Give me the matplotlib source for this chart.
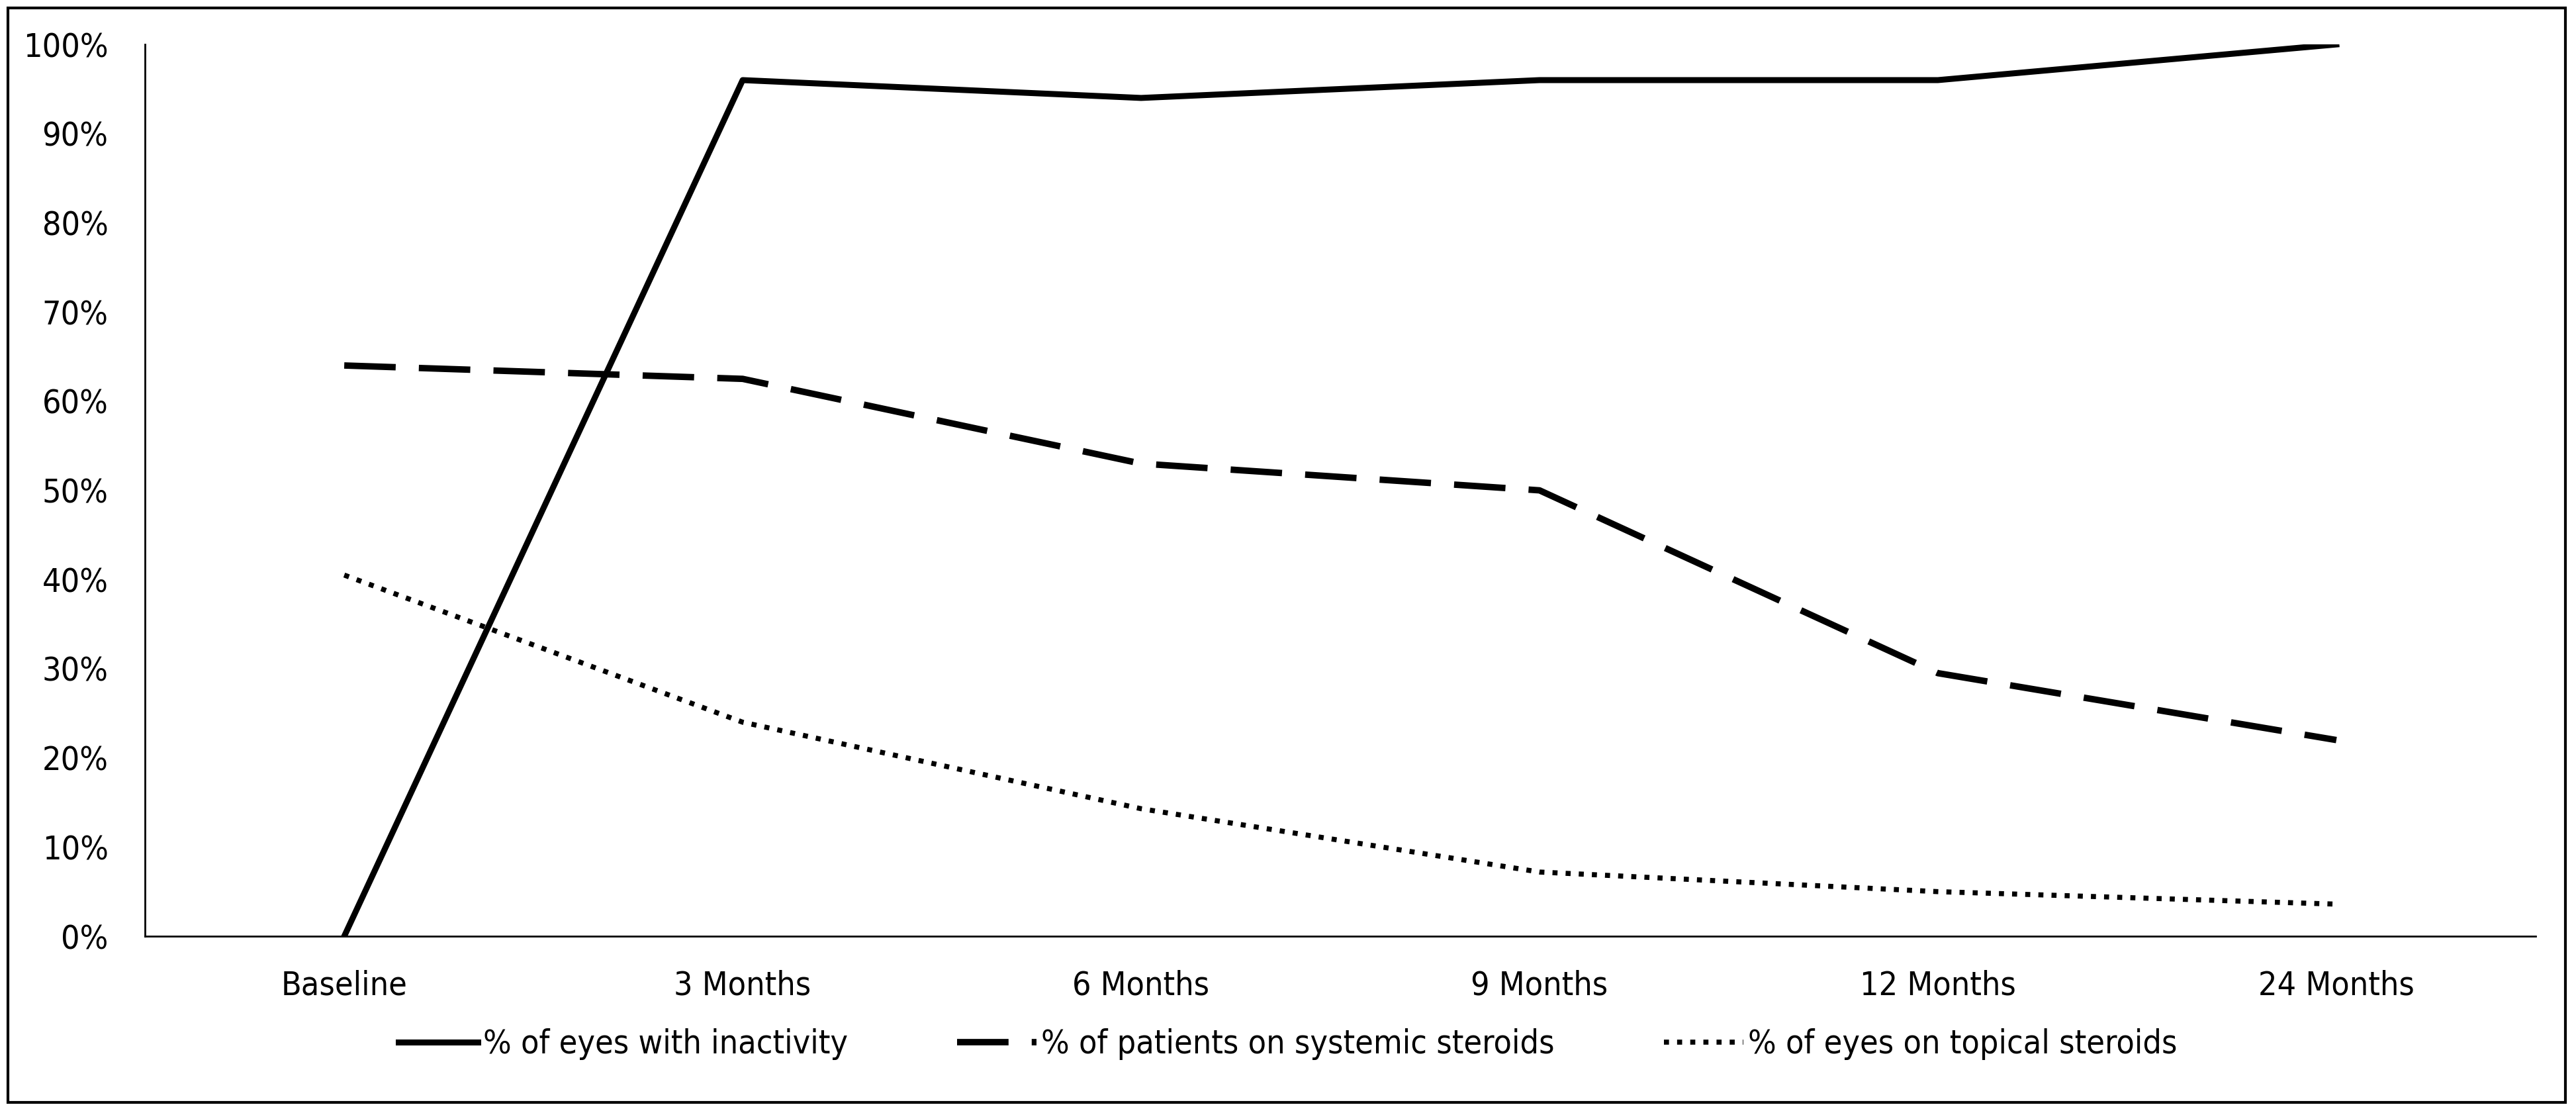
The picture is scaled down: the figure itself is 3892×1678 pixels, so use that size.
import matplotlib
matplotlib.use('Agg')
import matplotlib.pyplot as plt
from matplotlib.patches import Rectangle
from matplotlib.ticker import PercentFormatter

# data
timepoints = ['Baseline', '3 Months', '6 Months', '9 Months', '12 Months', '24 Months']
inactivity = [0, 96, 94, 96, 96, 100]
systemic = [64, 62.5, 53, 50, 29.5, 22]
topical = [40.5, 24, 14.3, 7.2, 5, 3.6]
labels = ['% of eyes with inactivity', '% of patients on systemic steroids',
          '% of eyes on topical steroids']

plt.rcParams['font.family'] = ['DejaVu Sans']
plt.rcParams['font.stretch'] = 'condensed'
fs = 36

fig = plt.figure(figsize=(38.92, 16.78), dpi=100)
ax = fig.add_axes([0.0563, 0.1573, 0.928, 0.8027])

x = range(len(timepoints))
ax.plot(x, inactivity, '-', color='black', lw=6.5, label=labels[0])
ax.plot(x, systemic, color='black', lw=7, dashes=(8, 3.6), label=labels[1])
ax.plot(x, topical, color='black', lw=5.5, dashes=(1, 1.6), label=labels[2])

ax.set_xlim(-0.5, len(timepoints) - 0.5)
ax.set_ylim(0, 100)
ax.set_yticks(range(0, 101, 10))
ax.yaxis.set_major_formatter(PercentFormatter(decimals=0))
ax.set_xticks(list(x))
ax.set_xticklabels(timepoints)
ax.tick_params(axis='both', length=0, labelsize=fs, colors='#000000')
ax.tick_params(axis='y', pad=40)
ax.tick_params(axis='x', pad=36)
for side in ['top', 'right']:
    ax.spines[side].set_visible(False)
for side in ['left', 'bottom']:
    ax.spines[side].set_linewidth(2)
    ax.spines[side].set_color('black')

fig.legend(loc='center', bbox_to_anchor=(0.5, 0.060), ncol=3, frameon=False,
           fontsize=fs, handlelength=2.4, handletextpad=0.15, columnspacing=3.3)

# outer border around the whole chart
fig.patches.append(Rectangle((0.003, 0.008), 0.993, 0.985, transform=fig.transFigure,
                             fill=False, lw=3, edgecolor='black'))

fig.savefig('out.png', dpi=100)
